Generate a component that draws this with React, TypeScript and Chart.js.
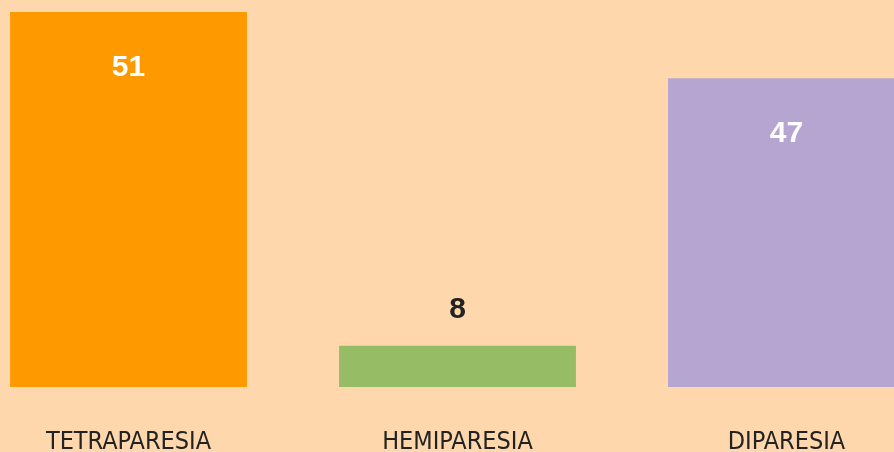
import React, { useEffect, useRef } from "react";
import { Chart, registerables } from "chart.js";

Chart.register(...registerables);

const categories = ["TETRAPARESIA", "HEMIPARESIA", "DIPARESIA"];
// bar lengths as drawn in the picture
const barValues = [51, 5.6, 42];
// numbers printed on the bars
const valueLabels = ["51", "8", "47"];
const barColors = ["#FF9900", "#96BC66", "#B5A5D0"];

const BG = "#FED8AC";

const valueLabelPlugin = {
  id: "valueLabels",
  afterDatasetsDraw(chart: any) {
    const ctx = chart.ctx;
    const meta = chart.getDatasetMeta(0);
    ctx.save();
    ctx.font = "bold 30px 'Liberation Sans', Arial, sans-serif";
    ctx.textAlign = "center";
    ctx.textBaseline = "middle";
    meta.data.forEach((bar: any, i: number) => {
      const h = bar.base - bar.y;
      if (h > 100) {
        ctx.fillStyle = "#FFFFFF";
        ctx.fillText(valueLabels[i], bar.x, bar.y + 56);
      } else {
        ctx.fillStyle = "#222222";
        ctx.fillText(valueLabels[i], bar.x, bar.y - 36);
      }
    });
    ctx.restore();
  },
};

export default function App() {
  const ref = useRef<HTMLCanvasElement | null>(null);

  useEffect(() => {
    document.documentElement.style.background = BG;
    document.body.style.background = BG;
    document.body.style.overflow = "hidden";
    document.documentElement.style.overflow = "hidden";
    if (!ref.current) return;
    const chart = new Chart(ref.current, {
      type: "bar",
      data: {
        labels: categories,
        datasets: [
          {
            data: barValues,
            backgroundColor: barColors,
            borderWidth: 0,
            barPercentage: 0.72,
            categoryPercentage: 1,
          },
        ],
      },
      options: {
        animation: false,
        responsive: true,
        maintainAspectRatio: false,
        layout: { padding: { top: 12, left: 0, right: 0, bottom: 0 } },
        plugins: {
          legend: { display: false },
          tooltip: { enabled: false },
        },
        scales: {
          y: {
            display: false,
            min: 0,
            max: 51,
          },
          x: {
            grid: { display: false, drawTicks: false, tickLength: 0 },
            border: { display: false },
            ticks: {
              color: "#222222",
              padding: 40,
              maxRotation: 0,
              autoSkip: false,
              font: {
                family: "'Liberation Sans Narrow', 'DejaVu Sans Condensed', sans-serif",
                size: 25,
                weight: "normal",
              },
            },
          },
        },
      },
      plugins: [valueLabelPlugin],
    });
    return () => chart.destroy();
  }, []);

  return (
    <div
      style={{
        position: "fixed",
        left: 0,
        top: 0,
        width: 894,
        height: 452,
        overflow: "hidden",
        background: BG,
      }}
    >
      <div style={{ position: "absolute", left: -36, top: 0, width: 987, height: 497 }}>
        <canvas ref={ref} />
      </div>
    </div>
  );
}
